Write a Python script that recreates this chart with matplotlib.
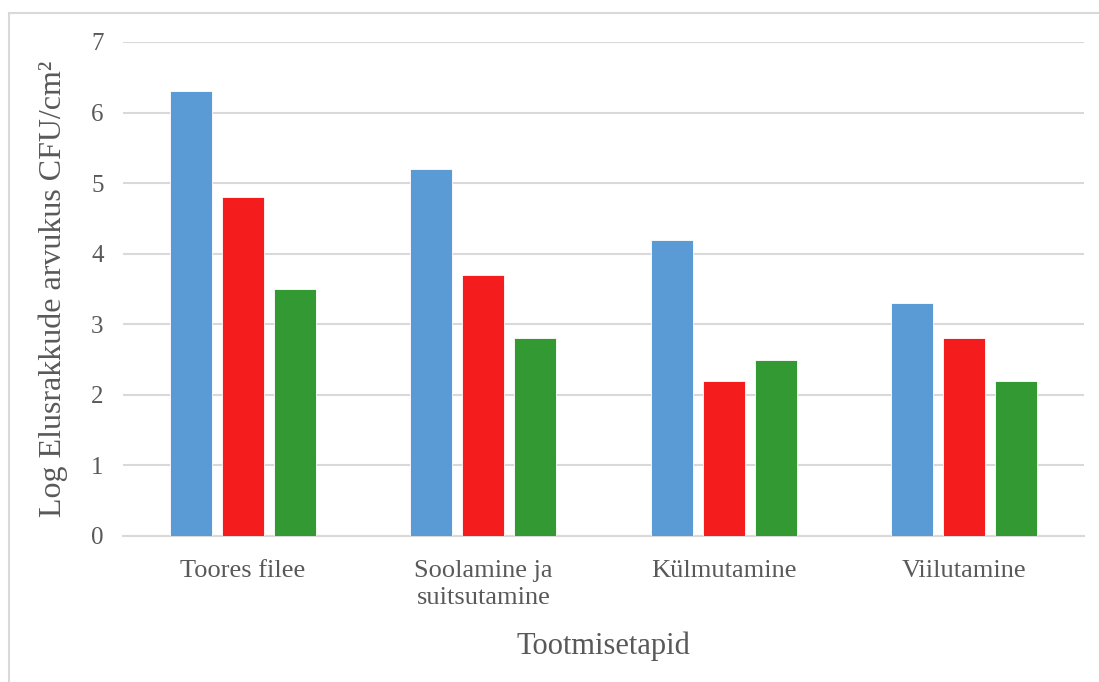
import matplotlib
matplotlib.use('Agg')
import matplotlib.pyplot as plt
from matplotlib.patches import Rectangle
import numpy as np

# Production stages and log counts for the three series
stages = ['Toores filee', 'Soolamine ja\nsuitsutamine', 'Külmutamine', 'Viilutamine']
series_blue = [6.3, 5.2, 4.2, 3.3]
series_red = [4.8, 3.7, 2.2, 2.8]
series_green = [3.5, 2.8, 2.5, 2.2]
yticks = [0, 1, 2, 3, 4, 5, 6, 7]

colors = ['#5B9BD5', '#F41C1C', '#339933']
text_color = '#595959'
grid_color = '#D9D9D9'

plt.rcParams['font.family'] = ['Liberation Serif', 'DejaVu Serif']

fig = plt.figure(figsize=(10.99, 6.82), dpi=100)
ax = fig.add_axes([123 / 1099, 1 - 536 / 682, 961 / 1099, 494 / 682])

x = np.arange(len(stages))
step = 0.2165
width = 0.175
for k, (vals, c) in enumerate(zip([series_blue, series_red, series_green], colors)):
    ax.bar(x + (k - 1) * step, vals, width, color=c, edgecolor='white', linewidth=0.6, zorder=3)

ax.set_xlim(-0.5, len(stages) - 0.5)
ax.set_ylim(0, 7)
ax.set_yticks(yticks)
ax.set_xticks(x)
ax.set_xticklabels(stages, linespacing=1.3)
ax.yaxis.grid(True, color=grid_color, linewidth=1.5, zorder=0)
ax.set_axisbelow(True)

for side in ['top', 'right', 'left']:
    ax.spines[side].set_visible(False)
ax.spines['bottom'].set_color(grid_color)
ax.spines['bottom'].set_linewidth(1.5)

ax.tick_params(axis='both', length=0, colors=text_color)
ax.tick_params(axis='y', pad=14, labelsize=18)
ax.tick_params(axis='x', pad=17, labelsize=19)

ax.set_ylabel('Log Elusrakkude arvukus CFU/cm²', fontsize=23, color=text_color)
ax.yaxis.set_label_coords(-0.057, 0.5)
ax.set_xlabel('Tootmisetapid', fontsize=22, color=text_color)
ax.xaxis.set_label_coords(0.5, -0.193)

# light chart-area frame
fig.patches.append(Rectangle((9 / 1099, -0.05), 1.2, 1 - 13 / 682 + 0.05,
                             transform=fig.transFigure, fill=False,
                             edgecolor=grid_color, linewidth=1.5))

fig.savefig('out.png', dpi=100)
